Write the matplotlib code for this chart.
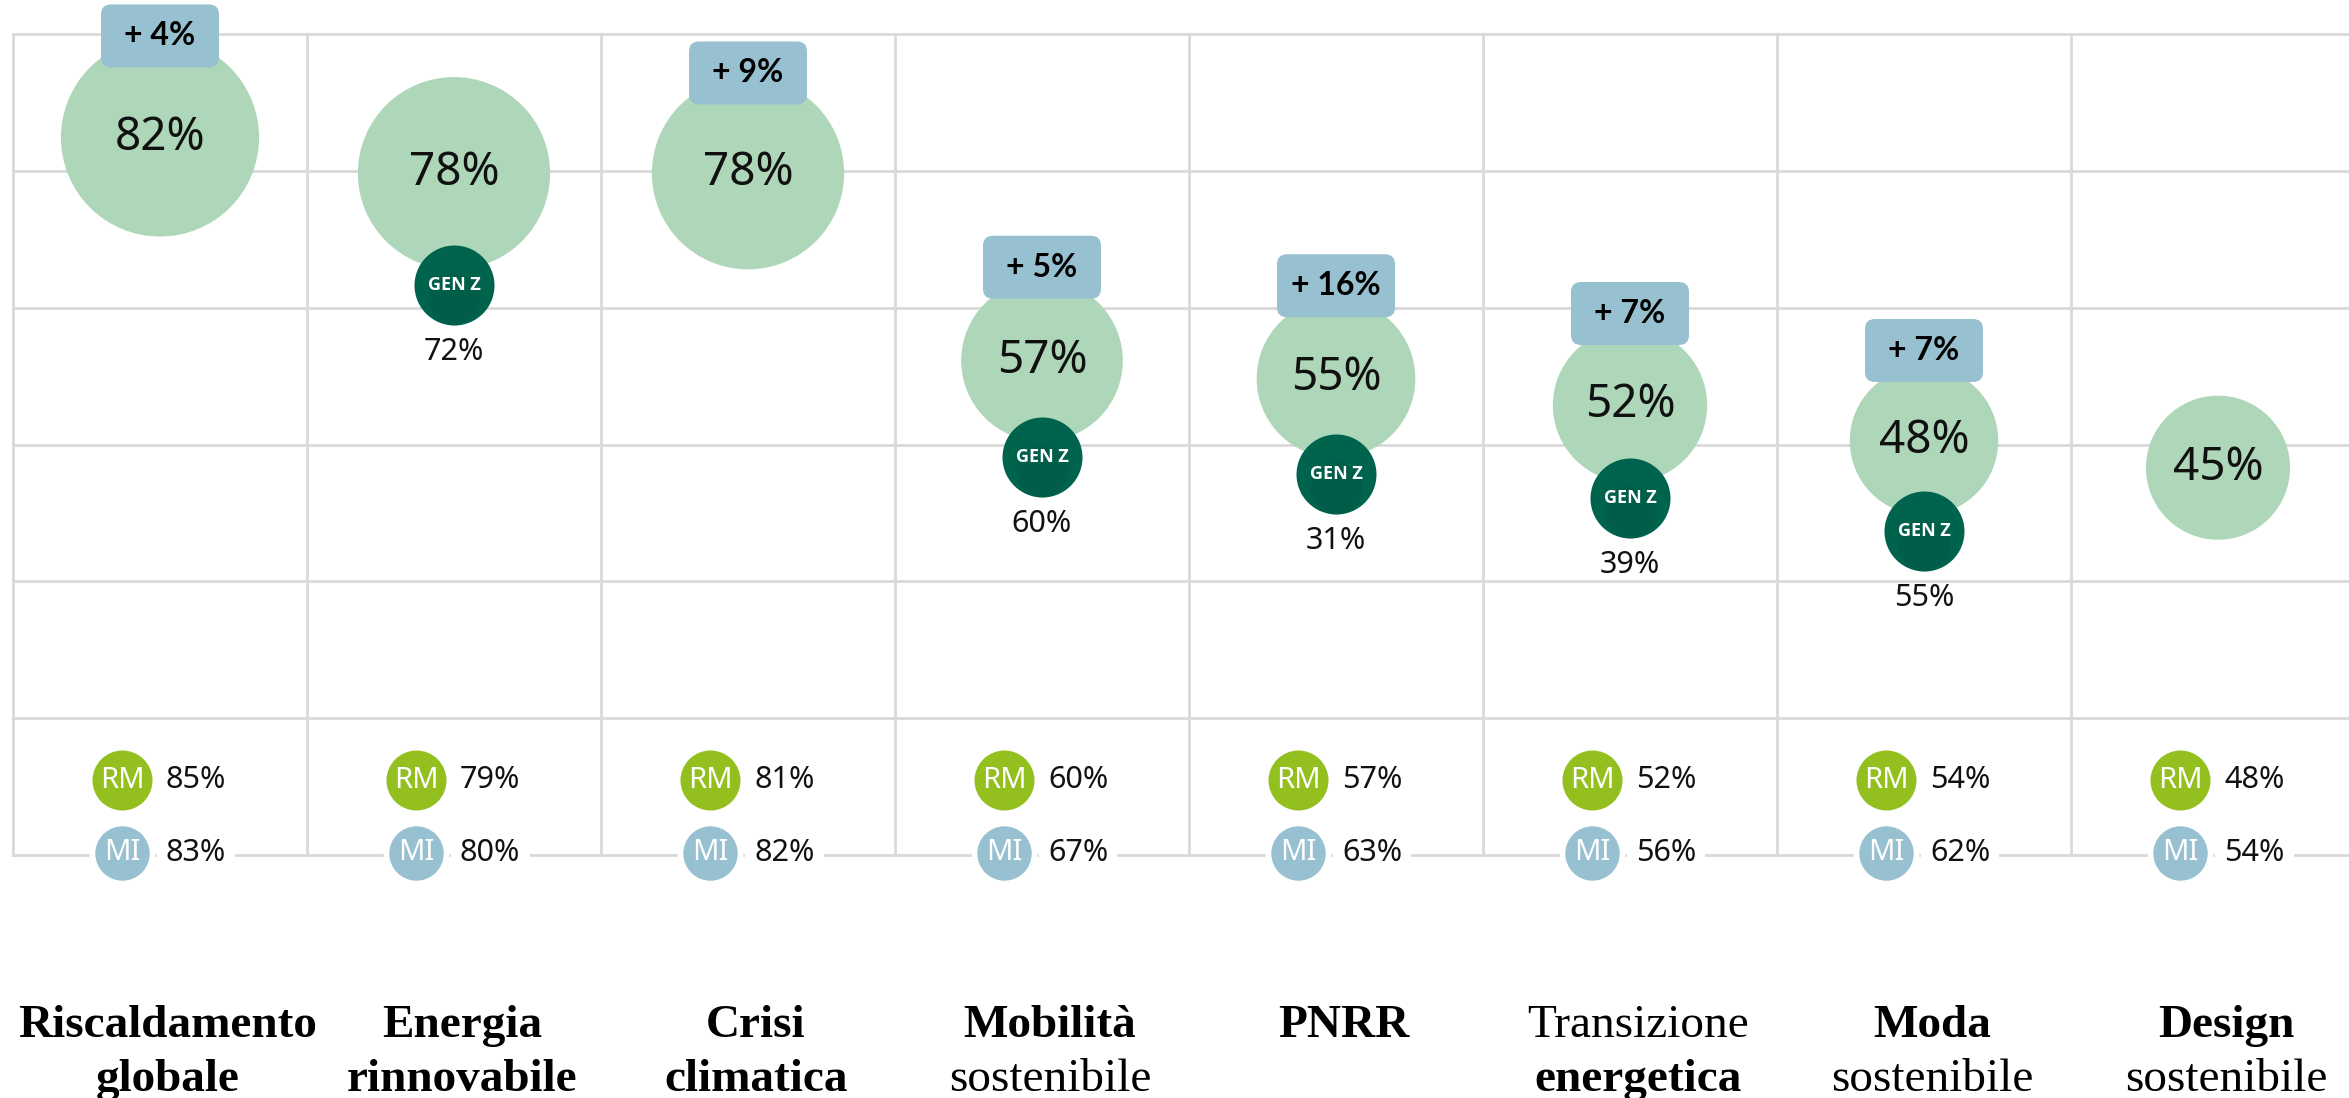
import numpy as np
import matplotlib
matplotlib.use("Agg")
import matplotlib.pyplot as plt
from matplotlib.patches import FancyBboxPatch

# dati
riga1 = ["Riscaldamento", "Energia", "Crisi", "Mobilità", "PNRR", "Transizione", "Moda", "Design"]
riga2 = ["globale", "rinnovabile", "climatica", "sostenibile", "", "energetica", "sostenibile", "sostenibile"]
totale = [82, 78, 78, 57, 55, 52, 48, 45]
gen_z = [None, 72, None, 60, 31, 39, 55, None]
delta = [4, None, 9, 5, 16, 7, 7, None]
roma = [85, 79, 81, 60, 57, 52, 54, 48]
milano = [83, 80, 82, 67, 63, 56, 62, 54]

# stile etichette (grassetto riga 1 / riga 2)
bold1 = [True, True, True, True, True, False, True, True]
bold2 = [True, True, True, False, False, True, False, False]

W, H, DPI = 2349, 1098, 100
fig = plt.figure(figsize=(W / DPI, H / DPI), dpi=DPI)
fig.patch.set_facecolor("white")

col_px = 294
left_px, top_px, bot_px = 13, 34, 855
ax = fig.add_axes([left_px / W, (H - bot_px) / H, 8 * col_px / W, (bot_px - top_px) / H])
ymin, ymax = 1.6, 93.6
ax.set_xlim(-0.5, 7.5)
ax.set_ylim(ymin, ymax)
ax.axis("off")

k = (bot_px - top_px) / (ymax - ymin)   # px per unità y
def py(px):
    return px / k
def pt(px):
    return px * 72 / DPI

grid_c = "#D9D9D9"
for yy in np.linspace(ymin, ymax, 7):
    ax.plot([-0.5, 7.5], [yy, yy], color=grid_c, lw=2, zorder=0, clip_on=False)
for xx in np.arange(-0.5, 8):
    ax.plot([xx, xx], [ymin, ymax], color=grid_c, lw=2, zorder=0, clip_on=False)

x = np.arange(len(totale))
tot = np.array(totale)
r_px = 39.2 + 0.73 * tot
ax.scatter(x, tot, s=(2 * pt(r_px)) ** 2, color="#AED6B8", linewidths=0, zorder=2)
for i, v in enumerate(totale):
    ax.text(i, v, f"{v}%", ha="center", va="center", fontsize=33,
            family="Noto Sans", color="#111111", zorder=3)

# gen z
for i, g in enumerate(gen_z):
    if g is None:
        continue
    yc = totale[i] - py(r_px[i] + 16)
    ax.scatter([i], [yc], s=(2 * pt(40)) ** 2, color="#00634E", linewidths=0, zorder=4)
    ax.scatter([i], [yc - py(14)], s=(2 * pt(26)) ** 2, color="#005443", linewidths=0,
               zorder=4, alpha=0.35)
    ax.text(i, yc, "GEN Z", ha="center", va="center", fontsize=13, fontweight="bold",
            family="Open Sans", color="white", zorder=5)
    ax.text(i, yc - py(67), f"{g}%", ha="center", va="center", fontsize=22,
            family="Noto Sans", color="#111111", zorder=5)

# differenza
bw, bh = 118 / col_px, py(63)
for i, d in enumerate(delta):
    if d is None:
        continue
    yc = totale[i] + py(0.45 * r_px[i] + 57)
    box = FancyBboxPatch((i - bw / 2, yc - bh / 2), bw, bh,
                         boxstyle=f"round,pad=0,rounding_size={10 / col_px}",
                         mutation_aspect=col_px / k, fc="#97C1D0", ec="none",
                         zorder=6, clip_on=False)
    ax.add_patch(box)
    ax.text(i, yc, f"+ {d}%", ha="center", va="center", fontsize=23, fontweight="bold",
            family="Lato", color="black", zorder=7)

# RM / MI
dx = -38 / col_px
y_rm = ymin + py(bot_px - 780)
y_mi = ymin + py(bot_px - 853)
for i in range(len(roma)):
    ax.scatter([i + dx], [y_rm], s=(2 * pt(30)) ** 2, color="#93C01F", linewidths=0, zorder=4)
    ax.text(i + dx, y_rm, "RM", ha="center", va="center", fontsize=21, family="Noto Sans",
            color="white", zorder=5)
    ax.text(i + dx + 44 / col_px, y_rm, f"{roma[i]}%", ha="left", va="center", fontsize=22,
            family="Noto Sans", color="#111111", zorder=5)
    ax.scatter([i + dx], [y_mi], s=(2 * pt(30)) ** 2, color="#97C1D0", edgecolors="white",
               linewidths=4, zorder=4, clip_on=False)
    ax.text(i + dx, y_mi, "MI", ha="center", va="center", fontsize=21, family="Noto Sans",
            color="white", zorder=5, clip_on=False)
    ax.text(i + dx + 44 / col_px, y_mi, f"{milano[i]}%", ha="left", va="center", fontsize=22,
            family="Noto Sans", color="#111111", zorder=5, clip_on=False,
            bbox=dict(boxstyle="square,pad=0.3", fc="white", ec="none"))

# etichette categorie
for i in range(len(riga1)):
    ax.annotate(riga1[i], xy=(i, 0), xycoords=("data", "axes fraction"),
                xytext=(pt(8), -pt(1037 - bot_px)), textcoords="offset points",
                ha="center", va="baseline", fontsize=34, family="Liberation Serif",
                fontweight="bold" if bold1[i] else "normal")
    if riga2[i]:
        ax.annotate(riga2[i], xy=(i, 0), xycoords=("data", "axes fraction"),
                    xytext=(pt(8), -pt(1091 - bot_px)), textcoords="offset points",
                    ha="center", va="baseline", fontsize=34, family="Liberation Serif",
                    fontweight="bold" if bold2[i] else "normal")

fig.savefig("out.png", dpi=DPI)
